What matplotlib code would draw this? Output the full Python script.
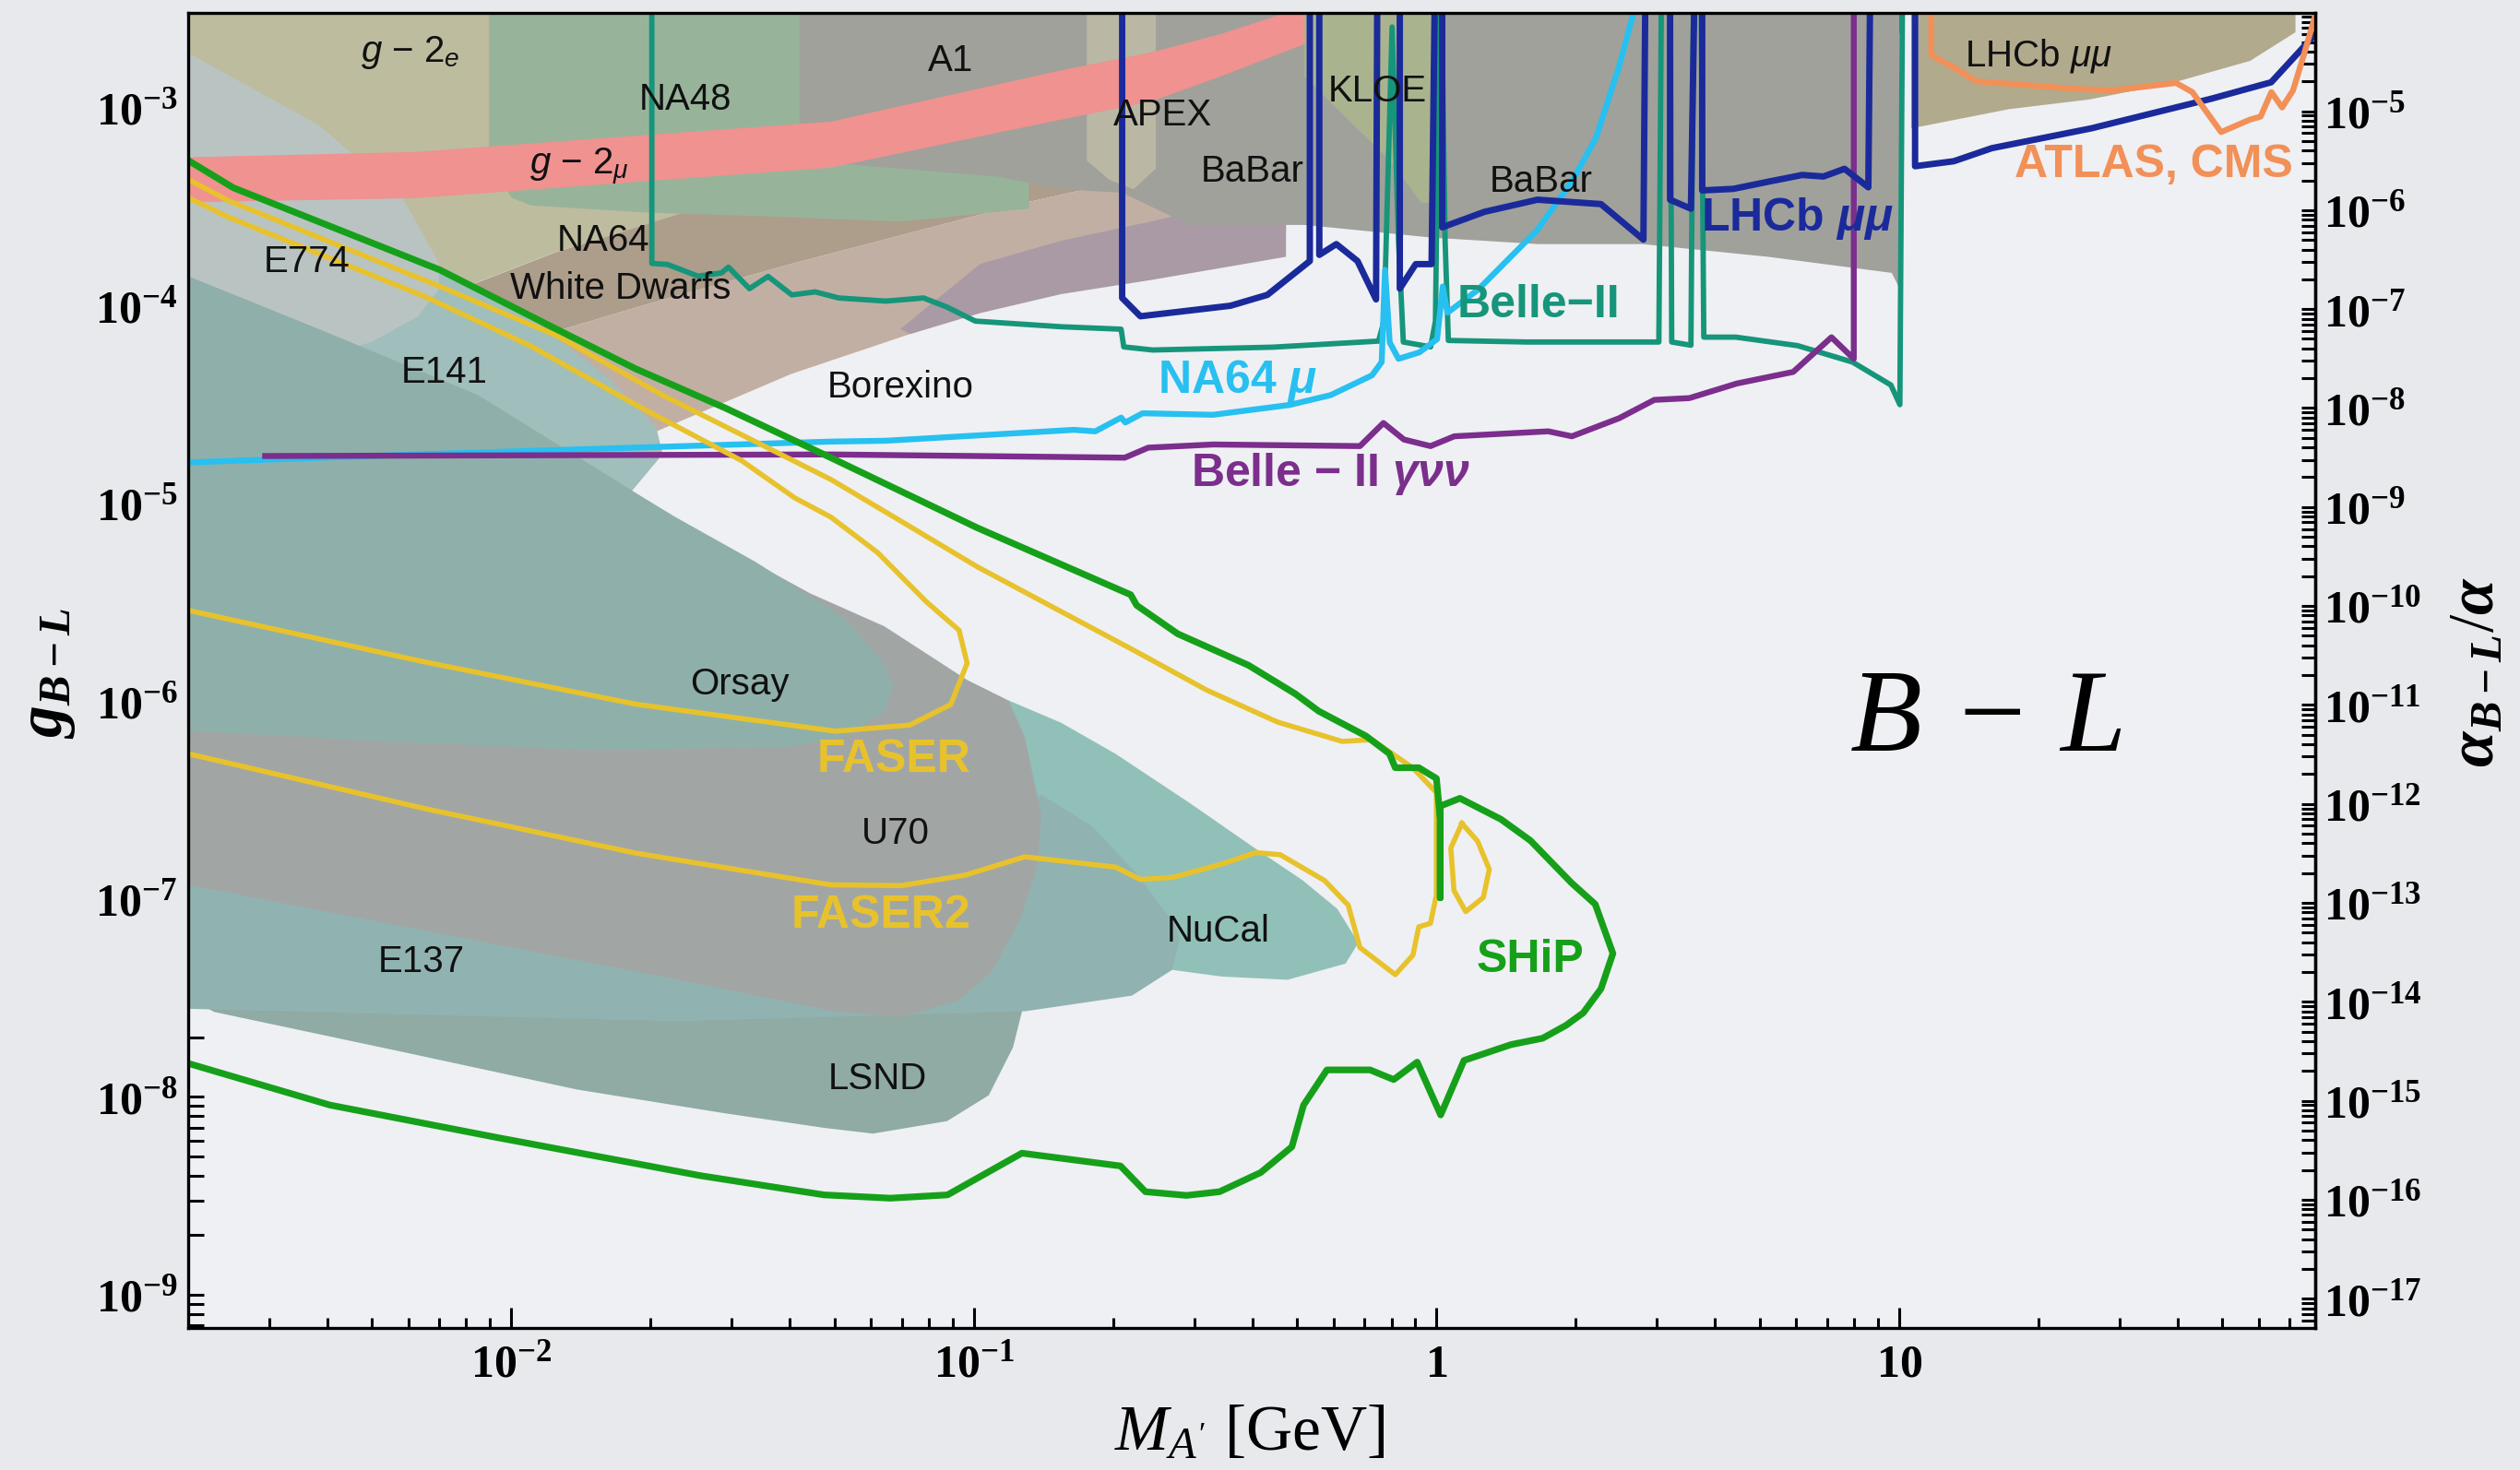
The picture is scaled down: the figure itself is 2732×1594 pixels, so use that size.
import numpy as np
import matplotlib.pyplot as plt
from matplotlib.ticker import FixedLocator, FuncFormatter, NullFormatter

plt.rcParams['font.family'] = 'Liberation Sans'
plt.rcParams['mathtext.fontset'] = 'custom'
plt.rcParams['mathtext.rm'] = 'Liberation Serif'
plt.rcParams['mathtext.it'] = 'Liberation Serif:italic'
plt.rcParams['mathtext.bf'] = 'Liberation Serif:bold'
plt.rcParams['mathtext.bfit'] = 'Liberation Serif:italic:bold'
plt.rcParams['mathtext.sf'] = 'Liberation Sans:italic'
plt.rcParams['mathtext.tt'] = 'Liberation Sans:italic:bold'

TOP = 1e-2  # lines that run off the top of the frame

# ---------------- excluded regions (mass [GeV], coupling) ----------------
khaki_m = [0.002, 0.045, 0.045, 0.032, 0.0125, 0.0062, 0.002]
khaki_g = [TOP, TOP, 2.55e-4, 3.65e-4, 1.86e-4, 9.9e-5, 9.9e-5]

wd_m = [0.00621, 0.01254, 0.0320, 0.0694, 0.1426, 0.2496, 0.2496, 0.1306, 0.0403, 0.0193, 0.01195, 0.00683]
wd_g = [9.87e-5, 1.86e-4, 3.67e-4, 6.26e-4, 1.04e-3, 1.51e-3, 4.65e-4, 3.32e-4, 1.62e-4, 1.0e-4, 7.17e-5, 4.58e-5]

borex_m = [0.00683, 0.01195, 0.0193, 0.0403, 0.1306, 0.2496, 0.4733, 0.4733, 0.2496, 0.1317, 0.0729, 0.0403, 0.0209, 0.01295]
borex_g = [4.58e-5, 7.17e-5, 1.0e-4, 1.62e-4, 3.32e-4, 4.65e-4, 5.93e-4, 2.33e-4, 1.60e-4, 1.10e-4, 7.17e-5, 4.50e-5, 2.34e-5, 1.41e-5]

texono_m = [0.0694, 0.1033, 0.1545, 0.2447, 0.4733, 0.4733, 0.2447, 0.1545, 0.1033, 0.0729]
texono_g = [7.59e-5, 1.62e-4, 2.12e-4, 2.67e-4, 3.86e-4, 1.76e-4, 1.35e-4, 1.14e-4, 9.14e-5, 7.17e-5]

na48_m = [0.00896, 0.1317, 0.1317, 0.0694, 0.0366, 0.0193, 0.01103, 0.01002, 0.00896]
na48_g = [TOP, TOP, 3.08e-4, 2.65e-4, 2.81e-4, 2.95e-4, 3.2e-4, 3.5e-4, 5.39e-4]

babar_m = [0.0420, 10.05, 10.05, 9.65, 5.216, 2.795, 1.662, 0.980, 0.5209, 0.2929, 0.2094, 0.1545, 0.1122, 0.0694, 0.0420]
babar_g = [TOP, TOP, 1.21e-4, 1.46e-4, 1.76e-4, 2.04e-4, 2.04e-4, 2.20e-4, 2.55e-4, 2.55e-4, 3.71e-4, 3.86e-4, 4.48e-4, 4.91e-4, 5.39e-4]

apex_m = [0.1756, 0.2476, 0.2476, 0.2215, 0.1965, 0.1756]
apex_g = [TOP, TOP, 4.91e-4, 3.86e-4, 4.31e-4, 5.39e-4]

kloe_m = [0.519, 0.979, 0.979, 0.928, 0.792, 0.676, 0.519]
kloe_g = [TOP, TOP, 3.30e-4, 3.30e-4, 5.45e-4, 7.78e-4, 1.43e-3]

lhcb_reg_m = [10.63, 72.0, 72.0, 57.45, 38.5, 25.82, 17.31, 10.63]
lhcb_reg_g = [TOP, TOP, 2.4e-3, 1.72e-3, 1.32e-3, 1.098e-3, 9.81e-4, 7.84e-4]

e774_m = [0.002, 3.84e-3, 5.82e-3, 6.99e-3, 6.99e-3, 6.30e-3, 5.0e-3, 3.9e-3, 0.002]
e774_g = [1.89e-3, 8.14e-4, 3.51e-4, 1.63e-4, 1.21e-4, 8.81e-5, 6.53e-5, 5.52e-5, 4.75e-5]

e141_m = [0.002, 3.9e-3, 6.30e-3, 6.99e-3, 0.01095, 0.01633, 0.02059, 0.02126, 0.01811, 8.68e-3, 0.002]
e141_g = [3.71e-4, 2.55e-4, 1.76e-4, 1.51e-4, 8.81e-5, 4.25e-5, 2.43e-5, 1.77e-5, 1.13e-5, 2.71e-5, 8.33e-5]

orsay_m = [0.002, 3.84e-3, 8.47e-3, 0.01856, 0.02266, 0.0338, 0.0524, 0.0631, 0.0670, 0.0644, 0.0524, 0.0397, 0.01532, 5.82e-3, 0.002]
orsay_g = [1.405e-4, 7.58e-5, 3.52e-5, 1.13e-5, 8.52e-6, 5.05e-6, 2.63e-6, 1.63e-6, 1.21e-6, 8.99e-7, 6.56e-7, 5.88e-7, 5.66e-7, 6.22e-7, 7.09e-7]

u70_m = [0.002, 3.84e-3, 8.47e-3, 0.01856, 0.02415, 0.04437, 0.0641, 0.0968, 0.119, 0.129, 0.1401, 0.137, 0.1264, 0.1095, 0.0926, 0.0698, 0.0504, 0.02303, 0.002]
u70_g = [1.405e-4, 7.58e-5, 3.52e-5, 1.13e-5, 7.61e-6, 3.5e-6, 2.39e-6, 1.28e-6, 1.007e-6, 6.58e-7, 2.64e-7, 1.45e-7, 7.97e-8, 4.3e-8, 3.07e-8, 2.53e-8, 2.69e-8, 3.91e-8, 1.18e-7]

nucal_m = [0.1187, 0.1545, 0.2026, 0.2929, 0.4064, 0.5128, 0.6114, 0.6785, 0.6365, 0.4773, 0.3438, 0.2698, 0.1813, 0.1317, 0.1216]
nucal_g = [1.011e-6, 7.78e-7, 5.42e-7, 3.06e-7, 1.80e-7, 1.25e-7, 8.91e-8, 6.01e-8, 4.72e-8, 3.91e-8, 4.06e-8, 4.38e-8, 5.69e-8, 1.45e-7, 4.44e-7]

e137_m = [0.002, 0.0193, 0.0956, 0.1404, 0.1813, 0.2286, 0.2704, 0.2793, 0.2683, 0.2197, 0.129, 0.02303, 0.002]
e137_g = [1.45e-7, 9.96e-8, 2.54e-7, 3.36e-7, 2.31e-7, 1.29e-7, 7.52e-8, 6.36e-8, 4.38e-8, 3.25e-8, 2.71e-8, 2.41e-8, 2.79e-8]

lsnd_m = [0.002, 2.28e-3, 5.82e-3, 0.0139, 0.0288, 0.0475, 0.0606, 0.0876, 0.1078, 0.1216, 0.1271, 0.1274, 0.002]
lsnd_g = [3.2e-8, 2.69e-8, 1.69e-8, 1.09e-8, 8.29e-9, 6.98e-9, 6.53e-9, 7.55e-9, 1.02e-8, 1.78e-8, 2.69e-8, 3.91e-8, 3.91e-8]

# g-2 muon band: upper edge left->right, then lower edge right->left
gm2mu_m = [0.002, 6.22e-3, 0.0193, 0.0491, 0.0956, 0.1545, 0.2437, 0.3438, 0.4733, 0.6020,
           0.8981, 0.7064, 0.5128, 0.341, 0.2437, 0.1545, 0.0956, 0.0491, 0.0193, 6.22e-3, 0.002]
gm2mu_g = [5.6e-4, 5.96e-4, 7.24e-4, 8.48e-4, 1.2e-3, 1.54e-3, 1.905e-3, 2.36e-3, 3.01e-3, 3.84e-3,
           3.84e-3, 2.80e-3, 2.07e-3, 1.432e-3, 1.078e-3, 8.68e-4, 6.88e-4, 4.96e-4, 4.23e-4, 3.48e-4, 3.32e-4]

# ---------------- sensitivity / limit curves ----------------
ship_m = [0.002, 2.51e-3, 7.02e-3, 0.01254, 0.01856, 0.02913, 0.0491, 0.1019, 0.2185, 0.2251, 0.2761, 0.3924,
          0.4955, 0.5572, 0.7046, 0.7918, 0.8154, 0.9166, 1.0007, 1.02, 1.02, 1.02, 1.125, 1.38, 1.598, 1.961,
          2.206, 2.409, 2.27, 2.078, 1.907, 1.698, 1.452, 1.148, 1.022, 0.9093, 0.809, 0.7193, 0.5803, 0.5165,
          0.4874, 0.4173, 0.34, 0.2884, 0.2351, 0.2077, 0.1271, 0.0878, 0.066, 0.0475, 0.0257, 9.22e-3, 4.06e-3, 0.002]
ship_g = [5.42e-4, 3.93e-4, 1.51e-4, 7.58e-5, 4.79e-5, 3.02e-5, 1.70e-5, 7.51e-6, 3.45e-6, 3.05e-6, 2.19e-6, 1.52e-6,
          1.09e-6, 8.9e-7, 6.67e-7, 5.43e-7, 4.61e-7, 4.61e-7, 4.07e-7, 2.54e-7, 1.015e-7, 2.95e-7, 3.23e-7, 2.53e-7,
          1.975e-7, 1.206e-7, 9.42e-8, 5.31e-8, 3.52e-8, 2.66e-8, 2.3e-8, 1.98e-8, 1.84e-8, 1.53e-8, 8.11e-9, 1.5e-8,
          1.224e-8, 1.37e-8, 1.37e-8, 9.09e-9, 5.6e-9, 4.15e-9, 3.32e-9, 3.18e-9, 3.32e-9, 4.48e-9, 5.2e-9, 3.2e-9,
          3.08e-9, 3.2e-9, 4.0e-9, 6.27e-9, 9.1e-9, 1.48e-8]

faser_m = [0.002, 2.45e-3, 6.49e-3, 0.01099, 0.01862, 0.03154, 0.041, 0.0491, 0.06203, 0.0789, 0.093, 0.0968,
           0.0892, 0.0727, 0.0503, 0.01862, 6.49e-3, 0.002]
faser_g = [3.51e-4, 2.79e-4, 1.112e-4, 6.26e-5, 3.14e-5, 1.64e-5, 1.066e-5, 8.52e-6, 5.63e-6, 3.19e-6, 2.28e-6,
           1.555e-6, 9.62e-7, 7.57e-7, 7.05e-7, 9.65e-7, 1.58e-6, 2.88e-6]

faser2_m = [0.002, 2.45e-3, 7.02e-3, 0.01254, 0.02124, 0.0491, 0.0694, 0.1019, 0.2246, 0.3193, 0.4541, 0.6262,
            0.7257, 0.8904, 1.0007, 1.0007, 0.9716, 0.9166, 0.8904, 0.8154, 0.684, 0.6452, 0.5736, 0.46, 0.4071,
            0.3438, 0.27, 0.2292, 0.2026, 0.129, 0.0956, 0.0698, 0.0491, 0.01862, 6.49e-3, 0.002]
faser2_g = [4.34e-4, 3.38e-4, 1.246e-4, 7.04e-5, 3.52e-5, 1.32e-5, 8.16e-6, 4.77e-6, 1.78e-6, 1.136e-6, 7.84e-7,
            6.26e-7, 6.39e-7, 4.6e-7, 3.45e-7, 1.048e-7, 7.54e-8, 7.24e-8, 5.21e-8, 4.15e-8, 5.69e-8, 9.31e-8,
            1.24e-7, 1.675e-7, 1.716e-7, 1.503e-7, 1.288e-7, 1.256e-7, 1.45e-7, 1.635e-7, 1.319e-7, 1.17e-7,
            1.18e-7, 1.706e-7, 2.87e-7, 5.43e-7]

faser2_island_m = [1.136, 1.228, 1.302, 1.264, 1.158, 1.092, 1.075, 1.136]
faser2_island_g = [2.41e-7, 1.963e-7, 1.413e-7, 1.019e-7, 8.64e-8, 1.106e-7, 1.811e-7, 2.41e-7]

belle2_m = [0.02015, 0.02015, 0.02178, 0.02535, 0.0285, 0.02951, 0.03275, 0.03595, 0.04045, 0.04545, 0.0511,
            0.0646, 0.0779, 0.0876, 0.1008, 0.1545, 0.2083, 0.2111, 0.2437, 0.4432, 0.7503, 0.7709, 0.8026,
            0.8287, 0.8487, 0.9723, 0.996, 1.02, 1.045, 1.062, 1.571, 2.344, 3.028, 3.076, 3.202, 3.228, 3.552,
            3.61, 3.727, 3.787, 4.443, 6.04, 7.94, 9.61, 10.05, 10.21]
belle2_g = [TOP, 1.63e-4, 1.61e-4, 1.405e-4, 1.459e-4, 1.56e-4, 1.215e-4, 1.4e-4, 1.13e-4, 1.17e-4, 1.09e-4,
            1.051e-4, 1.09e-4, 9.8e-5, 8.33e-5, 7.8e-5, 7.58e-5, 6.17e-5, 5.95e-5, 6.15e-5, 6.6e-5, 8.33e-5,
            2.55e-3, 2.12e-4, 6.53e-5, 6.17e-5, 8.33e-5, TOP, 2.12e-4, 6.65e-5, 6.53e-5, 6.53e-5, 6.53e-5,
            TOP, TOP, 6.53e-5, 6.29e-5, TOP, TOP, 6.91e-5, 6.91e-5, 6.26e-5, 5.17e-5, 3.96e-5, 3.15e-5, TOP]

lhcb_m = [0.2094, 0.2094, 0.2293, 0.3591, 0.4314, 0.5329, 0.5329, 0.5587, 0.5587, 0.6081, 0.6757, 0.741, 0.7467,
          0.834, 0.834, 0.9028, 0.977, 0.9975, 1.03, 1.03, 1.271, 1.655, 2.27, 2.804, 2.84, 3.202, 3.202, 3.552,
          3.64, 3.757, 3.757, 4.388, 5.28, 6.18, 6.87, 7.63, 8.59, 8.70, 10.84, 10.84, 13.14, 15.89, 26.03, 47.4,
          63.8, 79.4]
lhcb_g = [TOP, 1.09e-4, 8.81e-5, 9.96e-5, 1.13e-4, 1.675e-4, TOP, TOP, 1.8e-4, 2.04e-4, 1.675e-4, 1.072e-4, TOP,
          TOP, 1.215e-4, 1.616e-4, 1.616e-4, TOP, TOP, 2.48e-4, 2.97e-4, 3.42e-4, 3.25e-4, 2.15e-4, TOP, TOP,
          3.42e-4, 3.08e-4, TOP, TOP, 3.81e-4, 3.88e-4, 4.24e-4, 4.56e-4, 4.48e-4, 4.9e-4, 3.95e-4, TOP, TOP,
          5.05e-4, 5.35e-4, 6.23e-4, 7.84e-4, 1.108e-3, 1.341e-3, 2.34e-3]

na64mu_m = [0.002, 6.21e-3, 0.0491, 0.0646, 0.1647, 0.1832, 0.2083, 0.2128, 0.2318, 0.3293, 0.4819, 0.5911,
            0.7261, 0.762, 0.7749, 0.7931, 0.8287, 0.9194, 1.004, 1.033, 1.057, 1.231, 1.65, 1.967, 2.213, 2.487, 2.716]
na64mu_g = [1.608e-5, 1.765e-5, 2.05e-5, 2.07e-5, 2.35e-5, 2.31e-5, 2.71e-5, 2.56e-5, 2.85e-5, 2.8e-5, 3.14e-5,
            3.52e-5, 4.43e-5, 5.17e-5, 1.511e-4, 6.5e-5, 5.37e-5, 5.79e-5, 6.75e-5, 1.246e-4, 9.18e-5, 1.2e-4,
            2.39e-4, 4.25e-4, 7.0e-4, 1.626e-3, 3.5e-3]

belle_gnn_m = [2.94e-3, 0.0491, 0.2121, 0.2385, 0.3293, 0.684, 0.7686, 0.8511, 0.9716, 1.094, 1.746, 1.964,
               2.485, 2.96, 3.525, 4.467, 5.91, 7.15, 7.99, 7.99]
belle_gnn_g = [1.733e-5, 1.765e-5, 1.70e-5, 1.91e-5, 1.982e-5, 1.945e-5, 2.545e-5, 2.1e-5, 1.945e-5, 2.18e-5,
               2.31e-5, 2.18e-5, 2.69e-5, 3.33e-5, 3.4e-5, 4.03e-5, 4.61e-5, 6.9e-5, 5.37e-5, TOP]

atlas_m = [11.75, 11.75, 13.45, 14.71, 24.28, 29.04, 39.73, 43.09, 49.72, 57.36, 60.52, 63.86, 67.36, 71.12, 75.04, 79.1]
atlas_g = [TOP, 1.84e-3, 1.54e-3, 1.356e-3, 1.24e-3, 1.219e-3, 1.331e-3, 1.196e-3, 7.51e-4, 8.68e-4, 8.99e-4,
           1.196e-3, 1.0e-3, 1.219e-3, 1.84e-3, 2.82e-3]

# axis ranges and tick decades
XLIM = (2.0e-3, 79.6)
YLIM = (6.8e-10, 3.02e-3)
x_decades = [-2, -1, 0, 1]
y_decades = [-9, -8, -7, -6, -5, -4, -3]
r_decades = list(range(-17, -4))

ALPHA = 1 / 137.036


def g_to_ratio(g):
    return np.asarray(g) ** 2 / (4 * np.pi * ALPHA)


def ratio_to_g(r):
    return np.sqrt(np.abs(np.asarray(r)) * 4 * np.pi * ALPHA)


def pow_label(v, pos):
    e = int(round(np.log10(v)))
    if e == 0:
        return r'$\mathbf{1}$'
    if e == 1:
        return r'$\mathbf{10}$'
    return r'$\mathbf{10^{%d}}$' % e


def minor_ticks(lo, hi):
    out = []
    for e in range(int(np.floor(np.log10(lo))), int(np.ceil(np.log10(hi))) + 1):
        for s in range(2, 10):
            v = s * 10.0 ** e
            if lo < v < hi:
                out.append(v)
    return out


fig = plt.figure(figsize=(13.66, 7.97), dpi=200, facecolor='#e7e9ec')
ax = fig.add_axes([0.0745, 0.0966, 0.8444, 0.8949])
ax.set_facecolor('#eef0f3')
ax.set_xscale('log')
ax.set_yscale('log')
ax.set_xlim(*XLIM)
ax.set_ylim(*YLIM)

regions = [
    (khaki_m, khaki_g, '#bdbc9f'),
    (wd_m, wd_g, '#ad9d8b'),
    (borex_m, borex_g, '#c2afa3'),
    (texono_m, texono_g, '#a99aa6'),
    (na48_m, na48_g, '#97b49a'),
    (babar_m, babar_g, '#a0a19b'),
    (apex_m, apex_g, '#bab8a4'),
    (lhcb_reg_m, lhcb_reg_g, '#b2aa8d'),
    (e141_m, e141_g, '#a0bebb'),
    (e774_m, e774_g, '#b9c4c2'),
    (nucal_m, nucal_g, '#91c0b9'),
    (lsnd_m, lsnd_g, '#90aaa4'),
    (e137_m, e137_g, '#90b3b1'),
    (u70_m, u70_g, '#a1a6a5'),
    (orsay_m, orsay_g, '#8fb0aa'),
    (gm2mu_m, gm2mu_g, '#ef9290'),
    (kloe_m, kloe_g, '#a9b48f'),
]
for i, (m, g, c) in enumerate(regions):
    ax.fill(m, g, color=c, lw=0, zorder=2 + i * 0.1)

curves = [
    (belle2_m, belle2_g, '#16957a', 2.1),
    (na64mu_m, na64mu_g, '#27c0f0', 2.3),
    (belle_gnn_m, belle_gnn_g, '#7b2e8c', 2.3),
    (lhcb_m, lhcb_g, '#1b2a9a', 2.5),
    (atlas_m, atlas_g, '#f29058', 2.3),
    (faser_m, faser_g, '#e8c22c', 2.0),
    (faser2_m, faser2_g, '#e8c22c', 2.0),
    (faser2_island_m, faser2_island_g, '#e8c22c', 2.0),
    (ship_m, ship_g, '#16a01a', 2.6),
]
for m, g, c, lw in curves:
    ax.plot(m, g, color=c, lw=lw, solid_joinstyle='round', zorder=5)

# region names
black_labels = [
    (6.06e-3, 1.89e-3, r'$\mathsf{g}$ − 2$_{\mathsf{e}}$'),
    (0.02377, 1.098e-3, 'NA48'),
    (0.089, 1.72e-3, 'A1'),
    (0.2557, 9.11e-4, 'APEX'),
    (0.7467, 1.206e-3, 'KLOE'),
    (0.4003, 4.73e-4, 'BaBar'),
    (1.681, 4.23e-4, 'BaBar'),
    (20.0, 1.82e-3, r'LHCb $\mathsf{\mu\mu}$'),
    (0.01402, 5.01e-4, r'$\mathsf{g}$ − 2$_{\mathsf{\mu}}$'),
    (0.0158, 2.12e-4, 'NA64'),
    (3.61e-3, 1.663e-4, 'E774'),
    (0.01727, 1.21e-4, 'White Dwarfs'),
    (7.16e-3, 4.58e-5, 'E141'),
    (0.0694, 3.87e-5, 'Borexino'),
    (0.0312, 1.219e-6, 'Orsay'),
    (0.0678, 2.14e-7, 'U70'),
    (6.4e-3, 4.8e-8, 'E137'),
    (0.3382, 6.86e-8, 'NuCal'),
    (0.0621, 1.228e-8, 'LSND'),
]
for x, y, s in black_labels:
    ax.text(x, y, s, fontsize=14.5, color='#111111', ha='center', va='center', zorder=8)

color_labels = [
    (1.667, 1.0e-4, 'Belle−II', '#16957a'),
    (0.3724, 4.17e-5, r'NA64 $\mathtt{\mu}$', '#27c0f0'),
    (0.5911, 1.41e-5, r'Belle − II $\mathtt{\gamma\nu\nu}$', '#7b2e8c'),
    (6.02, 2.75e-4, r'LHCb $\mathtt{\mu\mu}$', '#1b2a9a'),
    (35.6, 5.1e-4, 'ATLAS, CMS', '#f29058'),
    (0.0672, 5.06e-7, 'FASER', '#e8c22c'),
    (0.0631, 8.26e-8, 'FASER2', '#e8c22c'),
    (1.597, 4.9e-8, 'SHiP', '#16a01a'),
]
for x, y, s, c in color_labels:
    ax.text(x, y, s, fontsize=18, fontweight='bold', color=c, ha='center', va='center', zorder=8)

ax.text(15.6, 7.78e-7, 'B − L', family='Liberation Serif', style='italic', fontsize=46,
        ha='center', va='center', zorder=8)

# ticks (only those inside the frame)
ax.xaxis.set_major_locator(FixedLocator([10.0 ** e for e in x_decades]))
ax.xaxis.set_minor_locator(FixedLocator(minor_ticks(*XLIM)))
ax.yaxis.set_major_locator(FixedLocator([10.0 ** e for e in y_decades]))
ax.yaxis.set_minor_locator(FixedLocator(minor_ticks(*YLIM)))
ax.xaxis.set_major_formatter(FuncFormatter(pow_label))
ax.yaxis.set_major_formatter(FuncFormatter(pow_label))
ax.xaxis.set_minor_formatter(NullFormatter())
ax.yaxis.set_minor_formatter(NullFormatter())
ax.tick_params(which='both', direction='in', top=True, right=False, width=1.1, labelsize=18, colors='black')
ax.tick_params(axis='x', which='major', length=8, pad=6)
ax.tick_params(axis='x', which='minor', length=4)
ax.tick_params(axis='y', which='both', length=6, pad=4)
for sp in ax.spines.values():
    sp.set_linewidth(1.2)
    sp.set_zorder(10)

sec = ax.secondary_yaxis('right', functions=(g_to_ratio, ratio_to_g))
r_lo, r_hi = g_to_ratio(YLIM[0]), g_to_ratio(YLIM[1])
sec.yaxis.set_major_locator(FixedLocator([10.0 ** e for e in r_decades]))
sec.yaxis.set_minor_locator(FixedLocator(minor_ticks(r_lo, r_hi)))
sec.yaxis.set_major_formatter(FuncFormatter(pow_label))
sec.yaxis.set_minor_formatter(NullFormatter())
sec.tick_params(which='both', direction='in', length=5.5, width=1.1, labelsize=18, pad=3)
sec.spines['right'].set_linewidth(1.2)

# axis titles
fig.text(0.019, 0.542, r'$\mathbfit{g}_{\mathbfit{B-L}}$', fontsize=25, rotation=90, ha='center', va='center')
fig.text(0.496, 0.024, r'$\mathit{M}_{\mathit{A}^{\prime}}$ [GeV]', family='Liberation Serif', fontsize=25,
         ha='center', va='center')
fig.text(0.983, 0.543, r'$\mathbfit{\alpha}_{\mathbfit{B-L}}/\mathbfit{\alpha}$', fontsize=25, rotation=90,
         ha='center', va='center')

fig.savefig('out.png', dpi=200, facecolor=fig.get_facecolor())
